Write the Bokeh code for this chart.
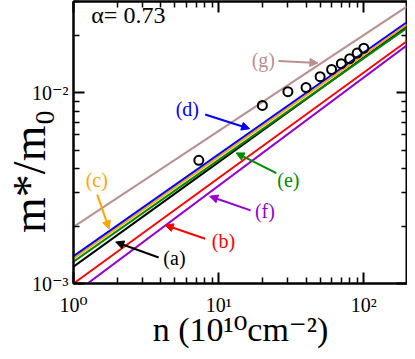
from bokeh.plotting import figure
from bokeh.models import (Range1d, FixedTicker, LogAxis, CustomJSTickFormatter,
                          Label, Arrow, NormalHead)
from bokeh.embed import file_html
from bokeh.resources import INLINE

# ---- data ----
n_line = [1.0, 200.0]
m_a = [1.226e-3, 2.23e-2]
m_b = [1.0e-3, 1.87e-2]
m_c = [1.353e-3, 2.28e-2]
m_d = [1.39e-3, 2.35e-2]
m_e = [1.301e-3, 2.19e-2]
m_f = [0.881e-3, 1.78e-2]
m_g = [1.977e-3, 2.835e-2]

n_exp = [7.3, 20, 30, 40, 50, 60, 70, 80, 90, 100]
m_exp = [4.42e-3, 8.56e-3, 1.011e-2, 1.063e-2, 1.211e-2, 1.321e-2,
         1.418e-2, 1.505e-2, 1.61e-2, 1.708e-2]

series_names = ["(a)", "(b)", "(c)", "(d)", "(e)", "(f)", "(g)"]
series_vals = [m_a, m_b, m_c, m_d, m_e, m_f, m_g]
series_colors = ["#000000", "#ff0000", "#ffa500", "#0000ff", "#008b00", "#9400d3", "#bc8f8f"]

x_major = [1, 10, 100]
x_minor = [2, 3, 4, 5, 6, 7, 8, 9, 20, 30, 40, 50, 60, 70, 80, 90, 200]
y_major = [1e-3, 1e-2]
y_minor = [2e-3, 3e-3, 4e-3, 5e-3, 6e-3, 7e-3, 8e-3, 9e-3, 2e-2, 3e-2]

alpha_text = "\u03b1= 0.73"
x_title = "n (10\u00b9\u2070cm\u207b\u00b2)"
y_title = "m*/m\u2080"

# annotation placement (label x, label y, arrow tail x, y, arrow head x, y) in data units
annot = {
    "(a)": (4.96, 1.364e-3, 3.86, 1.369e-3, 1.954, 1.649e-3),
    "(b)": (10.8, 1.661e-3, 8.07, 1.715e-3, 4.28, 2.024e-3),
    "(c)": (1.446, 3.49e-3, 1.457, 2.92e-3, 1.76, 1.93e-3),
    "(d)": (6.08, 8.19e-3, 8.07, 7.68e-3, 16.35, 6.47e-3),
    "(e)": (30.2, 3.49e-3, 24.98, 3.79e-3, 13.18, 4.83e-3),
    "(f)": (20.84, 2.40e-3, 16.6, 2.417e-3, 8.68, 2.864e-3),
    "(g)": (20.3, 1.476e-2, 25.8, 1.464e-2, 48.3, 1.430e-2),
}

FONT = "'Liberation Serif', 'DejaVu Serif', serif"

p = figure(width=407, height=351, x_axis_type="log", y_axis_type="log",
           x_range=Range1d(1, 200), y_range=Range1d(1e-3, 3e-2),
           output_backend="svg", toolbar_location=None,
           min_border_left=66, min_border_right=0, min_border_top=1,
           min_border_bottom=68)
p.xgrid.visible = False
p.ygrid.visible = False
p.outline_line_color = "black"
p.outline_line_width = 2
p.background_fill_color = "white"
p.border_fill_color = "white"

sup_code = r"""
const sup = {"-": "\u207b", "0": "\u2070", "1": "\u00b9", "2": "\u00b2", "3": "\u00b3",
             "4": "\u2074", "5": "\u2075", "6": "\u2076", "7": "\u2077", "8": "\u2078", "9": "\u2079"};
const e = Math.round(Math.log10(tick));
return "10" + String(e).split("").map(c => sup[c]).join("");
"""
empty_code = "return '';"


def style_axis(ax, ticks, minors, labels=True):
    ax.ticker = FixedTicker(ticks=ticks, minor_ticks=minors)
    ax.axis_line_color = "black"
    ax.axis_line_width = 2
    ax.major_tick_in = 11
    ax.major_tick_out = 0
    ax.minor_tick_in = 6
    ax.minor_tick_out = 0
    ax.major_tick_line_width = 2
    ax.minor_tick_line_width = 1.5
    ax.major_tick_line_color = "black"
    ax.minor_tick_line_color = "black"
    if labels:
        ax.formatter = CustomJSTickFormatter(code=sup_code)
        ax.major_label_text_font = FONT
        ax.major_label_text_font_size = "20px"
        ax.major_label_text_color = "black"
        ax.axis_label_text_font = FONT
        ax.axis_label_text_font_style = "normal"
        ax.axis_label_text_color = "black"
    else:
        ax.formatter = CustomJSTickFormatter(code=empty_code)
        ax.major_label_standoff = 0
        ax.axis_label_standoff = 0
        ax.major_label_text_font_size = "0px"


xa = p.xaxis[0]
style_axis(xa, x_major, x_minor)
xa.major_label_standoff = 10
xa.axis_label = x_title
xa.axis_label_text_font_size = "34px"
xa.axis_label_standoff = -8

ya = p.yaxis[0]
style_axis(ya, y_major, y_minor)
ya.major_label_standoff = 5
# trailing no-break spaces move the centred title down, clear of the 10^-2 label
ya.axis_label = y_title + "\u00a0" * 5
ya.axis_label_text_font_size = "46px"
ya.axis_label_standoff = -26

top_ax = LogAxis()
style_axis(top_ax, x_major, x_minor, labels=False)
p.add_layout(top_ax, "above")
right_ax = LogAxis()
style_axis(right_ax, y_major, y_minor, labels=False)
p.add_layout(right_ax, "right")

for name, vals, col in zip(series_names, series_vals, series_colors):
    p.line(n_line, vals, line_color=col, line_width=2)

p.scatter(n_exp, m_exp, marker="circle", size=9, line_color="black",
          line_width=2, fill_color=None)

for name, col in zip(series_names, series_colors):
    lx, ly, tx, ty, hx, hy = annot[name]
    p.add_layout(Label(x=lx, y=ly, text=name, text_color=col, text_font=FONT,
                       text_font_size="20px", text_align="center",
                       text_baseline="middle"))
    p.add_layout(Arrow(x_start=tx, y_start=ty, x_end=hx, y_end=hy,
                       line_color=col, line_width=2,
                       end=NormalHead(size=8, fill_color=col, line_color=col,
                                      line_width=1)))

p.add_layout(Label(x=1.326, y=2.535e-2, text=alpha_text, text_font=FONT,
                   text_font_size="24px", text_align="left",
                   text_baseline="middle", text_color="black"))

open("out.html", "w").write(file_html(p, INLINE))
